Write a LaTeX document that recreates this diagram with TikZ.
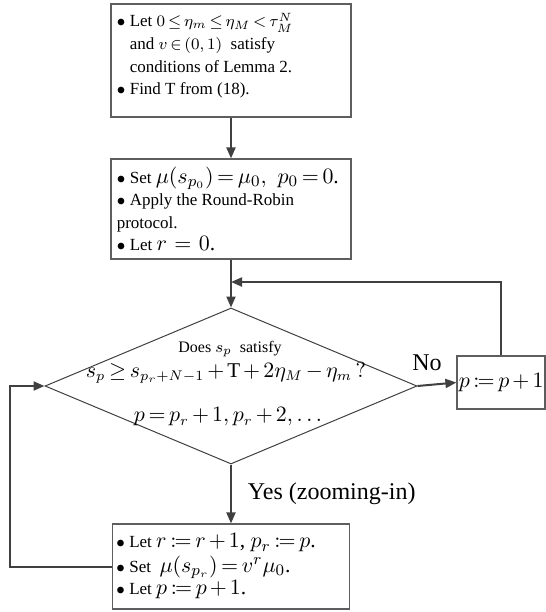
\documentclass[tikz,border=0pt]{standalone}
\usepackage{fontspec}
\setmainfont{Liberation Serif}
\usetikzlibrary{shapes.geometric,arrows.meta,positioning}
\definecolor{fLine}{HTML}{404040}
\definecolor{fBox}{HTML}{5E5E5E}
\tikzset{
  stepbox/.style={draw=fBox, line width=0.6pt, inner sep=0pt},
  steptext/.style={anchor=north west, inner sep=0pt, align=left,
    font=\fontsize{8.5}{11.2}\selectfont},
  flow/.style={draw=fLine, line width=1pt, -{Triangle[length=5.5pt,width=4.5pt]}},
  flowline/.style={draw=fLine, line width=1pt},
  biglabel/.style={font=\fontsize{12}{14}\selectfont, inner sep=0pt},
  mathlabel/.style={font=\fontsize{10.5}{12}\selectfont, inner sep=0pt},
}
\newcommand{\itm}{\makebox[6.5pt][l]{$\bullet$}}
\newcommand{\gap}{\hspace*{6.5pt}}
\newcommand{\asg}{\mathrel{:\mkern-1.5mu=}}
\newcommand{\mbig}{\fontsize{10.8}{11.2}\selectfont}

\begin{document}
\begin{tikzpicture}[x=0.5pt, y=-0.5pt]
  \thickmuskip=3mu plus 2mu
  \medmuskip=2.5mu plus 1mu
  \useasboundingbox (0,0) rectangle (546,612);
  % boxes
  \node[stepbox, minimum width=120pt, minimum height=56.5pt] (b1) at (231,60.5) {};
  \node[stepbox, minimum width=120pt, minimum height=50pt] (b2) at (231,209) {};
  \node[draw=fLine, line width=0.5pt, diamond, minimum width=186pt, minimum height=78pt,
    inner sep=0pt] (dec) at (231,386) {};
  \node[stepbox, minimum width=44pt, minimum height=26.5pt] (pb) at (501,382.5) {};
  \node[stepbox, minimum width=118.5pt, minimum height=42.5pt] (b3) at (231,566.5) {};
  % texts
  \node[steptext] (t1) at ([xshift=3pt,yshift=-4.5pt]b1.north west)
    {\itm Let $0\le\eta_m\le\eta_M<\tau_M^N$\\[0.4pt]
     \gap and $v\in(0,1)$\ \ satisfy\\
     \gap conditions of Lemma 2.\\
     \itm Find T from (18).};
  \node[steptext] (t2) at ([xshift=3pt,yshift=-4pt]b2.north west)
    {\itm Set {\mbig$\mu(s_{p_0})=\mu_0,\;\, p_0=0$.}\\
     \itm Apply the Round-Robin\\
     protocol.\\
     \itm Let {\mbig$r\,=\,0$.}};
  \node[steptext] (t3) at ([xshift=2pt,yshift=-5pt]b3.north west)
    {\itm Let {\mbig$r\asg r+1$, $p_r\asg p$.}\\[1pt]
     \itm Set\ \ {\mbig$\mu(s_{p_r})=v^r\mu_0$.}\\
     \itm Let {\mbig$p\asg p+1$.}};
  \node[mathlabel, anchor=west] (tp) at ([xshift=1pt]pb.west) {$p\asg p+1$};
  \node[font=\fontsize{8}{9}\selectfont, inner sep=0pt] (q1) at (230,349) {Does $s_p$\ \ satisfy};
  \node[mathlabel] (q2) at (226,373)
    {$s_p\ge s_{p_r+N-1}+\mathrm{T}+2\eta_M-\eta_m\,?$};
  \node[mathlabel] (q3) at (228,417) {$p=p_r+1,p_r+2,\ldots$};
  \node[biglabel] (no) at (427,363) {No};
  % connectors
  \coordinate (join) at (231,282);
  \draw[flow] (b1) -- (b2);
  \draw[flowline] (b2) -- (join);
  \draw[flow] (join) -- (dec.north);
  \draw[flow] (pb.north) |- (join);
  \draw[flow] (dec.east) -- (pb.west);
  \draw[flow] (dec.south) -- (b3.north)
    node[midway, right=8pt, biglabel] (yes) {Yes (zooming-in)};
  \draw[flow] (b3.west) -- ++(-102,0) |- (dec.west);
\end{tikzpicture}
\end{document}
